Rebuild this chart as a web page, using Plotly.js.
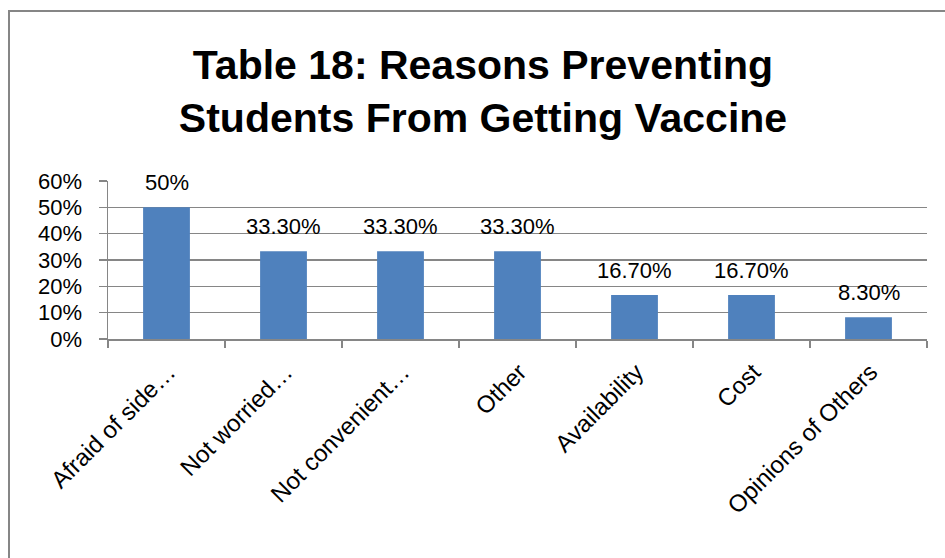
<!DOCTYPE html>
<html>
<head>
<meta charset="utf-8">
<script src="https://cdn.plot.ly/plotly-3.0.1.min.js"></script>
<style>
  html, body { margin: 0; padding: 0; background: #ffffff; }
  #wrap { position: relative; width: 945px; height: 558px; overflow: hidden; }
  #chart { position: absolute; left: 0; top: 0; width: 945px; height: 558px; }
  #frame { position: absolute; left: 8px; top: 10px; width: 960px; height: 600px;
           border-left: 2px solid #868686; border-top: 2px solid #868686; pointer-events: none; }
</style>
</head>
<body>
<div id="wrap">
  <div id="chart"></div>
  <div id="frame"></div>
</div>
<script>
const categories = ["Afraid of side…", "Not worried…", "Not convenient…", "Other", "Availability", "Cost", "Opinions of Others"];
const values = [0.50, 0.333, 0.333, 0.333, 0.167, 0.167, 0.083];
const valueLabels = ["50%", "33.30%", "33.30%", "33.30%", "16.70%", "16.70%", "8.30%"];
const yTickVals = [0, 0.1, 0.2, 0.3, 0.4, 0.5, 0.6];
const yTickText = ["0%", "10%", "20%", "30%", "40%", "50%", "60%"];

const FONT = "Liberation Sans, Arial, sans-serif";

const trace = {
  type: "bar",
  x: categories,
  y: values,
  width: 0.4,
  marker: { color: "#4F81BD" },
  hoverinfo: "skip"
};

const annotations = categories.map((c, i) => ({
  x: c, y: values[i], xref: "x", yref: "y",
  text: valueLabels[i], showarrow: false,
  yanchor: "middle", yshift: 25,
  font: { family: FONT, size: 22, color: "#000000" }
}));

const layout = {
  width: 945, height: 558,
  margin: { l: 108, r: 18, t: 181, b: 219, pad: 0 },
  paper_bgcolor: "#ffffff",
  plot_bgcolor: "#ffffff",
  showlegend: false,
  title: {
    text: "Table 18: Reasons Preventing<br>Students From Getting Vaccine",
    font: { family: FONT, size: 41, color: "#000000", weight: "bold" },
    x: 483 / 945, xanchor: "center", xref: "container",
    y: 1 - 79 / 558, yanchor: "middle", yref: "container"
  },
  xaxis: {
    type: "category",
    tickangle: -45,
    ticks: "outside", tickson: "boundaries", ticklen: 7, tickcolor: "#868686", tickwidth: 1.5,
    showline: true, linecolor: "#868686", linewidth: 1.5,
    showgrid: false,
    ticklabelshift: 2,
    ticklabelstandoff: 8,
    tickfont: { family: FONT, size: 24, color: "#000000" },
    automargin: false
  },
  yaxis: {
    range: [0, 0.6],
    tickvals: yTickVals, ticktext: yTickText,
    ticks: "outside", ticklen: 8, tickcolor: "#868686", tickwidth: 1.5,
    showline: true, linecolor: "#868686", linewidth: 1.5,
    showgrid: true, gridcolor: "#868686", gridwidth: 1.5,
    zeroline: false,
    ticklabelstandoff: 12,
    tickfont: { family: FONT, size: 22, color: "#000000" },
    automargin: false
  },
  bargap: 0.6,
  annotations: annotations
};

Plotly.newPlot("chart", [trace], layout, { displayModeBar: false, staticPlot: true });
</script>
</body>
</html>
